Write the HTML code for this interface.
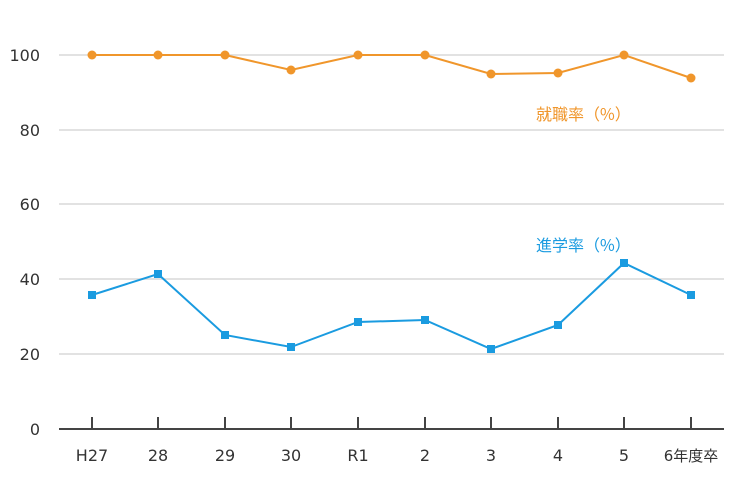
<!DOCTYPE html>
<html><head><meta charset="utf-8"><style>body{margin:0;background:#fff}svg{display:block}text{font-family:"DejaVu Sans","Liberation Sans","Noto Sans CJK JP",sans-serif;font-size:16px;fill:#333}.lg{font-family:"Noto Sans CJK JP",sans-serif;font-size:16px}</style></head><body>
<svg width="736" height="480" xmlns="http://www.w3.org/2000/svg">
<g stroke="#d9d9d9" stroke-width="1.5">
<line x1="59" x2="724" y1="55" y2="55"/><line x1="59" x2="724" y1="130" y2="130"/><line x1="59" x2="724" y1="204" y2="204"/><line x1="59" x2="724" y1="279" y2="279"/><line x1="59" x2="724" y1="354" y2="354"/>
</g>
<g stroke="#444" stroke-width="2">
<line x1="59" x2="724" y1="429" y2="429"/>
<line x1="92" x2="92" y1="417" y2="429"/><line x1="158" x2="158" y1="417" y2="429"/><line x1="225" x2="225" y1="417" y2="429"/><line x1="291" x2="291" y1="417" y2="429"/><line x1="358" x2="358" y1="417" y2="429"/><line x1="425" x2="425" y1="417" y2="429"/><line x1="491" x2="491" y1="417" y2="429"/><line x1="558" x2="558" y1="417" y2="429"/><line x1="624" x2="624" y1="417" y2="429"/><line x1="691" x2="691" y1="417" y2="429"/>
</g>
<g text-anchor="end"><text x="40" y="61">100</text><text x="40" y="136">80</text><text x="40" y="210">60</text><text x="40" y="285">40</text><text x="40" y="360">20</text><text x="40" y="435">0</text></g>
<g text-anchor="middle"><text x="92" y="461">H27</text><text x="158" y="461">28</text><text x="225" y="461">29</text><text x="291" y="461">30</text><text x="358" y="461">R1</text><text x="425" y="461">2</text><text x="491" y="461">3</text><text x="558" y="461">4</text><text x="624" y="461">5</text><text x="691" y="461" style="font-size:15px">6年度卒</text></g>
<polyline fill="none" stroke="#f0962b" stroke-width="2" points="92,55 158,55 225,55 291,70 358,55 425,55 491,74 558,73 624,55 691,78"/>
<g fill="#f0962b"><circle cx="92" cy="55" r="4.5"/><circle cx="158" cy="55" r="4.5"/><circle cx="225" cy="55" r="4.5"/><circle cx="291" cy="70" r="4.5"/><circle cx="358" cy="55" r="4.5"/><circle cx="425" cy="55" r="4.5"/><circle cx="491" cy="74" r="4.5"/><circle cx="558" cy="73" r="4.5"/><circle cx="624" cy="55" r="4.5"/><circle cx="691" cy="78" r="4.5"/></g>
<polyline fill="none" stroke="#1a9be0" stroke-width="2" points="92,295 158,274 225,335 291,347 358,322 425,320 491,349 558,325 624,263 691,295"/>
<g fill="#1a9be0"><rect x="88" y="291" width="8" height="8"/><rect x="154" y="270" width="8" height="8"/><rect x="221" y="331" width="8" height="8"/><rect x="287" y="343" width="8" height="8"/><rect x="354" y="318" width="8" height="8"/><rect x="421" y="316" width="8" height="8"/><rect x="487" y="345" width="8" height="8"/><rect x="554" y="321" width="8" height="8"/><rect x="620" y="259" width="8" height="8"/><rect x="687" y="291" width="8" height="8"/></g>
<text class="lg" x="536" y="120" style="fill:#f0962b">就職率（%）</text>
<text class="lg" x="536" y="251" style="fill:#1a9be0">進学率（%）</text>
</svg>
</body></html>
